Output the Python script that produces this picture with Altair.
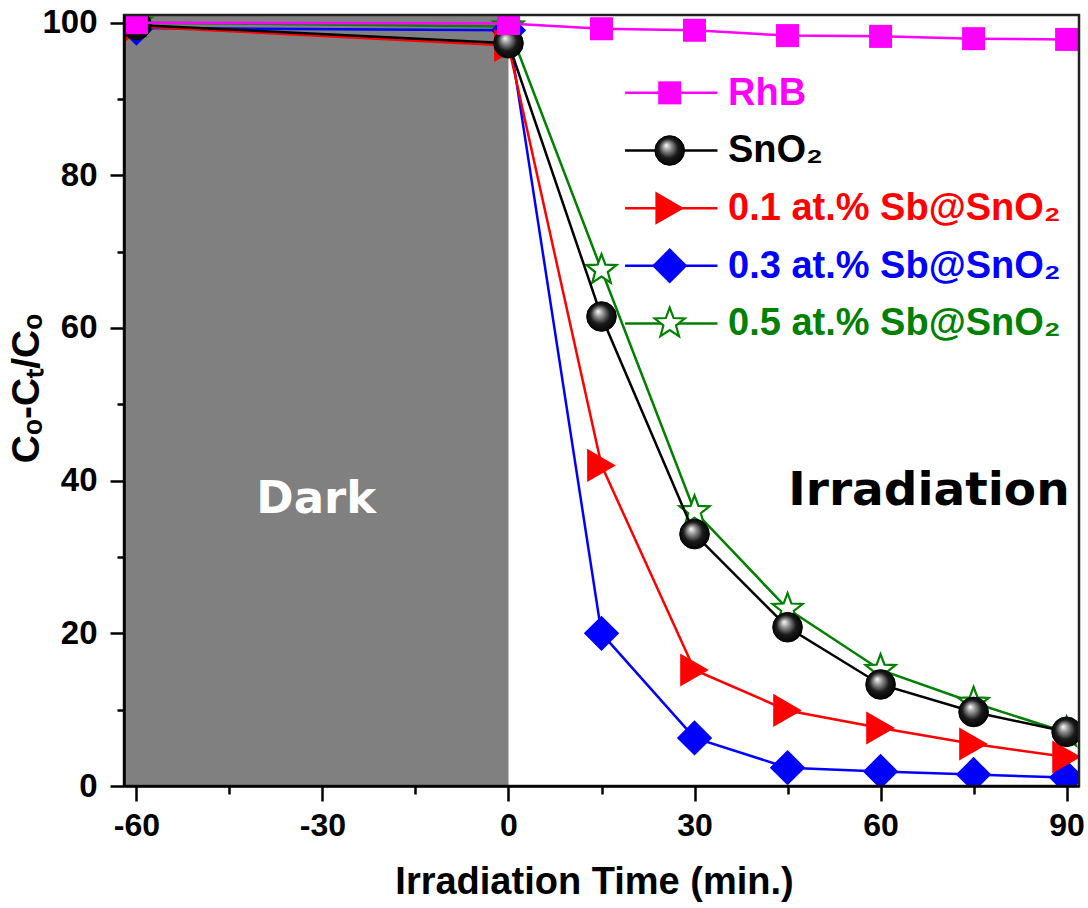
import altair as alt
import pandas as pd

# ---------------- data ----------------
times = [-60, 0, 15, 30, 45, 60, 75, 90]
rhb = [100.0, 99.9, 99.2, 99.0, 98.3, 98.2, 97.9, 97.8]
sno2 = [99.7, 97.3, 61.5, 33.0, 20.8, 13.3, 9.7, 7.1]
sb01 = [99.5, 97.0, 42.0, 15.2, 9.9, 7.6, 5.5, 3.8]
sb03 = [99.3, 99.0, 20.0, 6.3, 2.4, 1.9, 1.5, 1.1]
sb05 = [100.0, 99.5, 67.6, 36.0, 23.2, 15.2, 10.9, 7.0]

series_names = ["RhB", "SnO\u2082", "0.1 at.% Sb@SnO\u2082", "0.3 at.% Sb@SnO\u2082", "0.5 at.% Sb@SnO\u2082"]
series_values = [rhb, sno2, sb01, sb03, sb05]
series_colors = ["#FF00FF", "#000000", "#FF0000", "#0000FF", "#008000"]

x_major = [-60, -30, 0, 30, 60, 90]
x_minor = [-45, -15, 15, 45, 75]
y_major = [0, 20, 40, 60, 80, 100]
y_minor = [10, 30, 50, 70, 90]

X_DOMAIN = [-62, 92]
Y_DOMAIN = [0, 101]
W, H = 955, 771

FONT = "Liberation Sans"

xs = alt.Scale(domain=X_DOMAIN, nice=False, zero=False)
ys = alt.Scale(domain=Y_DOMAIN, nice=False, zero=False)

STAR = ("M0,-1L0.247,-0.340L0.951,-0.309L0.399,0.130L0.588,0.809L0,0.42"
        "L-0.588,0.809L-0.399,0.130L-0.951,-0.309L-0.247,-0.340Z")

sphere = {
    "gradient": "radial",
    "x1": 0.38, "y1": 0.32, "r1": 0.0,
    "x2": 0.5, "y2": 0.5, "r2": 0.55,
    "stops": [
        {"offset": 0.0, "color": "#ffffff"},
        {"offset": 0.25, "color": "#9a9a9a"},
        {"offset": 0.6, "color": "#1a1a1a"},
        {"offset": 1.0, "color": "#000000"},
    ],
}


def marker(color, idx):
    if idx == 0:
        return dict(shape="square", filled=True, color=color, size=530)
    if idx == 1:
        return dict(shape="circle", fill=sphere, fillOpacity=1, stroke="#000000", strokeWidth=1, size=880)
    if idx == 2:
        return dict(shape="triangle-right", filled=True, color=color, size=1100)
    if idx == 3:
        return dict(shape="diamond", filled=True, color=color, size=1250)
    return dict(shape=STAR, fill="#ffffff", fillOpacity=1, stroke=color, strokeWidth=2.2, size=1000)

# ---------------- axes layers ----------------
dark_df = pd.DataFrame({"x0": [X_DOMAIN[0]], "x1": [0], "y0": [Y_DOMAIN[0]], "y1": [Y_DOMAIN[1]]})

tick_common = dict(tickColor="#000000", tickWidth=2.5, grid=False, zindex=1)
label_common = dict(labelFont=FONT, labelFontWeight="bold", labelColor="#000000",
                    domainColor="#000000", domainWidth=2.5, labelFlush=False, labelOverlap=False,
                    labelExpr="'' + datum.value")

main_x_axis = alt.Axis(
    values=x_major, tickSize=15, labelFontSize=32, labelPadding=9,
    title="Irradiation Time (min.)", titleFont=FONT, titleFontWeight="bold", titleFontSize=38,
    titleColor="#000000", titleX=470, titleY=107, titleBaseline="alphabetic", titleAlign="center",
    orient="bottom", **tick_common, **label_common,
)
main_y_axis = alt.Axis(
    values=y_major, tickSize=14, labelFontSize=33, labelPadding=13,
    title="C\u2092-C\u209c/C\u2092", titleFont=FONT, titleFontWeight="bold", titleFontSize=39,
    titleColor="#000000", titleAngle=270, titleX=-86, titleY=373, titleBaseline="alphabetic",
    titleAlign="center", orient="left", **tick_common, **label_common,
)
minor_x_axis = alt.Axis(values=x_minor, tickSize=8, labels=False, domain=False, title=None,
                        orient="bottom", **tick_common)
minor_y_axis = alt.Axis(values=y_minor, tickSize=7, labels=False, domain=False, title=None,
                        orient="left", **tick_common)

dark_layer = alt.Chart(dark_df).mark_rect(color="#808080", clip=True).encode(
    x=alt.X("x0:Q", scale=xs, axis=main_x_axis),
    x2="x1:Q",
    y=alt.Y("y0:Q", scale=ys, axis=main_y_axis),
    y2="y1:Q",
)

minor_layer = alt.Chart(dark_df).mark_point(opacity=0).encode(
    x=alt.X("x1:Q", scale=xs, axis=minor_x_axis),
    y=alt.Y("y0:Q", scale=ys, axis=minor_y_axis),
)

layers = [dark_layer, minor_layer]

# ---------------- data series ----------------
draw_order = [4, 3, 2, 1, 0]
for i in draw_order:
    df = pd.DataFrame({"t": times, "v": series_values[i]})
    base = alt.Chart(df).encode(
        x=alt.X("t:Q", scale=xs, axis=None),
        y=alt.Y("v:Q", scale=ys, axis=None),
    )
    layers.append(base.mark_line(color=series_colors[i], strokeWidth=2.5, clip=True))
    layers.append(base.mark_point(opacity=1, clip=True, **marker(series_colors[i], i)))

# ---------------- legend (in data coordinates) ----------------
leg_y0, leg_step = 90.8, 7.55
leg_line = (18.8, 33.7)
leg_mark_x = 26.0
leg_text_x = 35.4
for i in range(5):
    yv = leg_y0 - i * leg_step
    ldf = pd.DataFrame({"a": [leg_line[0]], "b": [leg_line[1]], "m": [leg_mark_x], "tx": [leg_text_x],
                        "y": [yv], "label": [series_names[i]]})
    lb = alt.Chart(ldf)
    layers.append(lb.mark_rule(color=series_colors[i], strokeWidth=2.5).encode(
        x=alt.X("a:Q", scale=xs, axis=None), x2="b:Q", y=alt.Y("y:Q", scale=ys, axis=None)))
    layers.append(lb.mark_point(opacity=1, **marker(series_colors[i], i)).encode(
        x=alt.X("m:Q", scale=xs, axis=None), y=alt.Y("y:Q", scale=ys, axis=None)))
    layers.append(lb.mark_text(align="left", baseline="middle", font=FONT, fontWeight="bold",
                               fontSize=38, color=series_colors[i], dy=1).encode(
        x=alt.X("tx:Q", scale=xs, axis=None), y=alt.Y("y:Q", scale=ys, axis=None), text="label:N"))

# ---------------- annotations ----------------
ann_x = [-31.0, 67.8]
ann_y = [35.7, 36.8]
ann_txt = ["Dark", "Irradiation"]
ann_col = ["#ffffff", "#000000"]
ann_size = [45, 47]
for j in range(2):
    adf = pd.DataFrame({"x": [ann_x[j]], "y": [ann_y[j]], "txt": [ann_txt[j]]})
    layers.append(alt.Chart(adf).mark_text(align="center", baseline="alphabetic", font="DejaVu Sans",
                                           fontWeight="bold", fontSize=ann_size[j], color=ann_col[j]).encode(
        x=alt.X("x:Q", scale=xs, axis=None), y=alt.Y("y:Q", scale=ys, axis=None), text="txt:N"))

# frame (top / right border over everything)
layers.append(alt.Chart(dark_df).mark_rect(fillOpacity=0, stroke="#222222", strokeWidth=2.5).encode(
    x=alt.value(0), x2=alt.value(W), y=alt.value(0), y2=alt.value(H)))

chart = alt.layer(*layers).resolve_axis(x="independent", y="independent").properties(
    width=W, height=H,
    padding={"left": 124, "top": 15, "right": 9, "bottom": 122},
    autosize="none",
    background="#ffffff",
).configure_view(stroke=None)

chart.save("out.html", embed_options={"renderer": "svg", "actions": False})
